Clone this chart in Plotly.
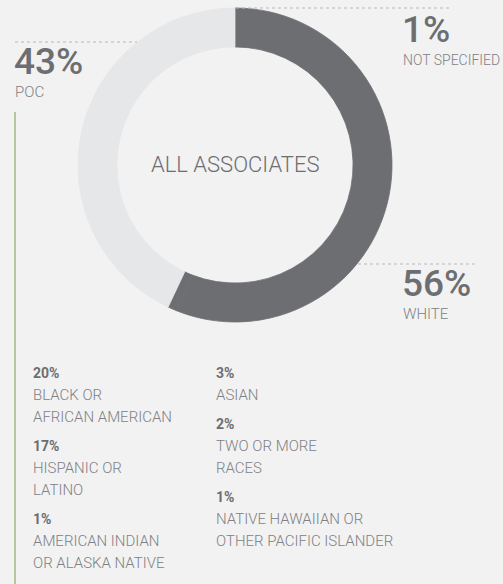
import plotly.graph_objects as go

W, H = 503, 584

# ---- data ----
segments = ["WHITE", "NOT SPECIFIED", "POC"]
seg_values = [56, 1, 43]
seg_colors = ["#6d6e71", "#6d6e71", "#e6e7e8"]

left_pcts = ["20%", "17%", "1%"]
left_labels = [["BLACK OR", "AFRICAN AMERICAN"], ["HISPANIC OR", "LATINO"], ["AMERICAN INDIAN", "OR ALASKA NATIVE"]]
right_pcts = ["3%", "2%", "1%"]
right_labels = [["ASIAN"], ["TWO OR MORE", "RACES"], ["NATIVE HAWAIIAN OR", "OTHER PACIFIC ISLANDER"]]

NARROW = "Roboto, sans-serif"
BOLD = "Roboto, sans-serif"
DARK = "#6d6e71"
LABEL = "#808184"

def px(x):
    return x / W

def py(y):
    return 1 - y / H

cx, cy, r = 235, 165, 157

fig = go.Figure(go.Pie(
    labels=segments, values=seg_values, sort=False, direction="clockwise", rotation=0,
    hole=0.752, marker=dict(colors=seg_colors, line=dict(width=0.8, color=seg_colors)),
    textinfo="none", hoverinfo="label+percent", showlegend=False,
    domain=dict(x=[px(cx - r), px(cx + r)], y=[py(cy + r), py(cy - r)]),
))

ann = []

def text(x, y, s, size, color, family, weight="normal", xanchor="left"):
    ann.append(dict(x=px(x), y=py(y), xref="paper", yref="paper", text=s, showarrow=False,
                    xanchor=xanchor, yanchor="middle", borderpad=0,
                    font=dict(size=size, color=color, family=family, weight=weight)))

# center label
text(cx, cy, "ALL ASSOCIATES", 22, DARK, NARROW, weight=300, xanchor="center")

# big callouts
text(13, 61, "43%", 37, DARK, BOLD, weight=500)
text(14, 92, "POC", 15, LABEL, NARROW, weight=300)
text(401, 29, "1%", 37, DARK, BOLD, weight=500)
text(402, 60, "NOT SPECIFIED", 14, LABEL, NARROW, weight=300)
text(401, 284, "56%", 37, DARK, BOLD, weight=500)
text(402, 314, "WHITE", 15, LABEL, NARROW, weight=300)

# breakdown lists
def column(x, y0, pcts, labels):
    y = y0
    for p, lab in zip(pcts, labels):
        text(x, y, p, 14, DARK, BOLD, weight="bold")
        y += 22
        for line in lab:
            text(x, y, line, 15, LABEL, NARROW, weight=300)
            y += 22
        y += 7

column(32, 373, left_pcts, left_labels)
column(215, 373, right_pcts, right_labels)

shapes = []
def hline(x0, x1, y):
    shapes.append(dict(type="line", xref="paper", yref="paper", x0=px(x0), x1=px(x1), y0=py(y), y1=py(y),
                       line=dict(color="#b8b8b8", width=1, dash="dot")))

hline(15, 137, 42)
hline(236, 452, 8)
hline(358, 475, 264)
shapes.append(dict(type="line", xref="paper", yref="paper", x0=px(15), x1=px(15), y0=py(112), y1=py(H + 5),
                   line=dict(color="#b3c99a", width=2)))

fig.update_layout(width=W, height=H, margin=dict(l=0, r=0, t=0, b=0),
                  paper_bgcolor="#f2f2f2", plot_bgcolor="#f2f2f2",
                  annotations=ann, shapes=shapes)

fig.write_html("out.html", config={"displayModeBar": False},
               post_script="document.body.style.margin='0';document.body.style.background='#f2f2f2';")
